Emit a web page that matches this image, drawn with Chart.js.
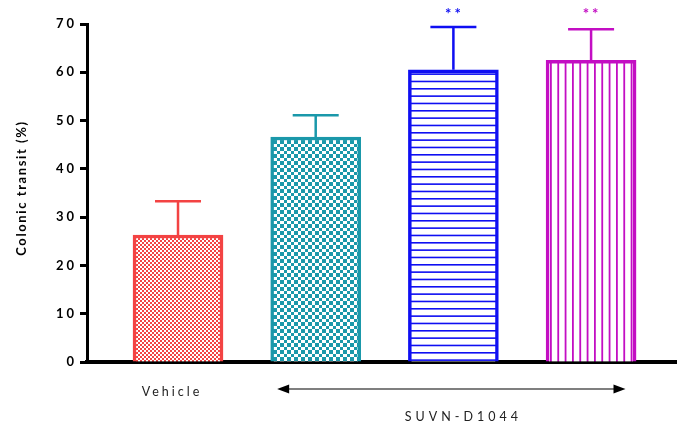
<!DOCTYPE html>
<html>
<head>
<meta charset="utf-8">
<script src="https://cdn.jsdelivr.net/npm/chart.js@4.4.1/dist/chart.umd.min.js"></script>
<style>
    html, body { margin: 0; padding: 0; background: #fff; }
    #wrap { width: 677px; height: 426px; position: relative; }
</style>
</head>
<body>
<div id="wrap"><canvas id="chart"></canvas></div>
<script>
// data
const categories = ["Vehicle", "SUVN-D1044", "SUVN-D1044", "SUVN-D1044"];
const transitMean = [26.3, 46.6, 60.5, 62.5];
const transitError = [7.0, 4.5, 8.9, 6.4];
const significance = ["", "", "**", "**"];
const groupLabels = ["Vehicle", "SUVN-D1044"];
const groupOf = [0, 1, 1, 1];
const yTickValues = [0, 10, 20, 30, 40, 50, 60, 70];
const yTitle = "Colonic transit (%)";

const barColors = ["#F34343", "#1A98AA", "#0F0FF2", "#C30EC3"];
const barPatterns = ["fineCheck", "check", "hLines", "vLines"];

function makePattern(kind, color) {
    const c = document.createElement("canvas");
    let ctx;
    if (kind === "fineCheck") {
        c.width = c.height = 4;
        ctx = c.getContext("2d");
        ctx.fillStyle = "#fff";
        ctx.fillRect(0, 0, 4, 4);
        ctx.fillStyle = color;
        ctx.fillRect(0, 0, 2, 2);
        ctx.fillRect(2, 2, 2, 2);
    } else if (kind === "check") {
        c.width = c.height = 7;
        ctx = c.getContext("2d");
        ctx.fillStyle = "#fff";
        ctx.fillRect(0, 0, 7, 7);
        ctx.fillStyle = color;
        ctx.fillRect(0, 0, 4, 4);
        ctx.fillRect(4, 4, 3, 3);
    } else if (kind === "hLines") {
        c.width = 4; c.height = 22;
        ctx = c.getContext("2d");
        ctx.fillStyle = "#fff";
        ctx.fillRect(0, 0, 4, 22);
        ctx.fillStyle = color;
        for (let i = 0; i < 3; i++) ctx.fillRect(0, i * 22 / 3, 4, 1.6);
    } else {
        c.width = 22; c.height = 4;
        ctx = c.getContext("2d");
        ctx.fillStyle = "#fff";
        ctx.fillRect(0, 0, 22, 4);
        ctx.fillStyle = color;
        for (let i = 0; i < 3; i++) ctx.fillRect(i * 22 / 3, 0, 1.8, 4);
    }
    return ctx.createPattern(c, "repeat");
}

const fills = barColors.map((col, i) => makePattern(barPatterns[i], col));

const extrasPlugin = {
    id: "extras",
    beforeDraw(chart) {
        chart.ctx.letterSpacing = "3px";
    },
    afterDatasetsDraw(chart) {
        const ctx = chart.ctx;
        const x = chart.scales.x;
        const y = chart.scales.y;
        ctx.save();
        // error bars (upper only)
        transitMean.forEach((m, i) => {
            const px = x.getPixelForValue(i + 1);
            const top = y.getPixelForValue(m + transitError[i]);
            ctx.strokeStyle = barColors[i];
            ctx.lineWidth = 2.5;
            ctx.beginPath();
            ctx.moveTo(px, y.getPixelForValue(m));
            ctx.lineTo(px, top);
            ctx.moveTo(px - 23, top);
            ctx.lineTo(px + 23, top);
            ctx.stroke();
            if (significance[i]) {
                ctx.fillStyle = barColors[i];
                ctx.font = "bold 15px Lato";
                ctx.letterSpacing = "3px";
                ctx.textAlign = "center";
                ctx.textBaseline = "middle";
                ctx.fillText(significance[i], px + 1, chart.chartArea.top - 10);
            }
        });
        ctx.restore();
    },
    afterDraw(chart) {
        const ctx = chart.ctx;
        const x = chart.scales.x;
        const area = chart.chartArea;
        ctx.save();
        // y title
        ctx.translate(22, (area.top + area.bottom) / 2 - 5);
        ctx.rotate(-Math.PI / 2);
        ctx.font = "bold 13px Lato";
        ctx.letterSpacing = "1.6px";
        ctx.fillStyle = "#000";
        ctx.textAlign = "center";
        ctx.textBaseline = "middle";
        ctx.fillText(yTitle, 0, 0);
        ctx.restore();

        // group labels under the axis
        ctx.save();
        ctx.fillStyle = "#222";
        ctx.textAlign = "center";
        ctx.textBaseline = "middle";
        groupLabels.forEach((label, g) => {
            const idx = groupOf.map((v, i) => v === g ? i : -1).filter(i => i >= 0);
            const first = idx[0] + 1;
            const last = idx[idx.length - 1] + 1;
            if (idx.length === 1) {
                ctx.font = "12.5px Lato";
                ctx.letterSpacing = "3px";
                ctx.fillText(label, x.getPixelForValue(first) - 6, 392);
            } else {
                const x0 = x.getPixelForValue(first - 0.28);
                const x1 = x.getPixelForValue(last + 0.25);
                const ay = 389;
                ctx.strokeStyle = "#555";
                ctx.lineWidth = 1.5;
                ctx.beginPath();
                ctx.moveTo(x0 + 8, ay);
                ctx.lineTo(x1 - 8, ay);
                ctx.stroke();
                ctx.fillStyle = "#000";
                ctx.beginPath();
                ctx.moveTo(x0, ay); ctx.lineTo(x0 + 12, ay - 4.5); ctx.lineTo(x0 + 12, ay + 4.5); ctx.closePath();
                ctx.moveTo(x1, ay); ctx.lineTo(x1 - 12, ay - 4.5); ctx.lineTo(x1 - 12, ay + 4.5); ctx.closePath();
                ctx.fill();
                ctx.fillStyle = "#222";
                ctx.font = "12.5px Lato";
                ctx.letterSpacing = "4px";
                ctx.fillText(label, (x.getPixelForValue(first) + x.getPixelForValue(last)) / 2 + 10, 417);
            }
        });
        ctx.restore();
    }
};

new Chart(document.getElementById("chart"), {
    type: "bar",
    data: {
        labels: categories,
        datasets: [{
            data: transitMean.map((v, i) => ({ x: i + 1, y: v })),
            backgroundColor: fills,
            borderColor: barColors,
            borderWidth: 3.5,
            borderSkipped: "start",
            barThickness: 90
        }]
    },
    options: {
        responsive: true,
        maintainAspectRatio: false,
        animation: false,
        layout: { padding: { top: 24, right: 0, bottom: 0, left: 0 } },
        plugins: { legend: { display: false }, tooltip: { enabled: false } },
        scales: {
            x: {
                type: "linear",
                offset: false,
                min: 0.339,
                max: 4.624,
                grid: { display: false },
                ticks: { display: false },
                border: { display: true, color: "#000", width: 4 },
                afterFit(scale) { scale.height = 64; }
            },
            y: {
                min: 0,
                max: 70,
                afterBuildTicks(scale) { scale.ticks = yTickValues.map(v => ({ value: v })); },
                grid: {
                    display: true,
                    drawOnChartArea: false,
                    drawTicks: true,
                    tickLength: 7,
                    tickWidth: 3,
                    tickColor: "#000"
                },
                border: { display: true, color: "#000", width: 3 },
                ticks: {
                    color: "#000",
                    padding: 3,
                    font: { family: "Lato", size: 13, weight: "bold" }
                },
                afterFit(scale) { scale.width = 87; }
            }
        }
    },
    plugins: [extrasPlugin]
});
</script>
</body>
</html>
